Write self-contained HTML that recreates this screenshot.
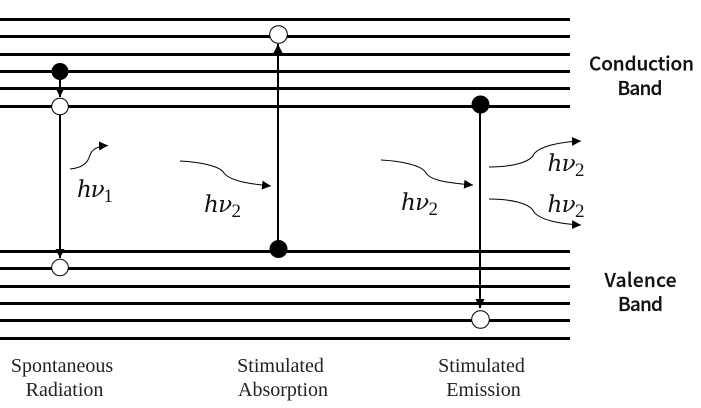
<!DOCTYPE html>
<html><head><meta charset="utf-8"><style>
html,body{margin:0;padding:0;background:#fff;width:701px;height:408px;overflow:hidden}
svg{display:block}
.s{font-family:"Liberation Serif",serif;font-size:20px;fill:#222;text-anchor:middle}
.b{font-family:"Noto Sans CJK SC","Liberation Sans",sans-serif;font-size:19px;font-weight:500;fill:#111;stroke:#111;stroke-width:.25px;text-anchor:middle}
.m{font-family:"DejaVu Serif","Liberation Serif",serif;font-style:italic;font-size:23px;fill:#111}
.m .u{font-family:"Liberation Serif",serif;font-style:normal;font-size:19px}
</style></head><body>
<svg width="701" height="408" viewBox="0 0 701 408" xmlns="http://www.w3.org/2000/svg">
<defs>
<marker id="a" markerUnits="userSpaceOnUse" markerWidth="10" markerHeight="9" refX="9" refY="4.500" orient="auto"><path d="M0 0L9 4.500L0 9z" fill="#000"/></marker>
</defs>
<g stroke="#000" stroke-width="3">
<path d="M0 19.500H570M0 36.500H570M0 54.500H570M0 71.500H570M0 88.500H570M0 106.500H570M0 251.500H570M0 268.500H570M0 286.500H570M0 303.500H570M0 320.500H570M0 338.500H570"/>
</g>
<g stroke="#000" stroke-width="2" fill="none">
<path d="M60 72V97" marker-end="url(#a)"/>
<path d="M60 115V258" marker-end="url(#a)"/>
<path d="M278 248V44" marker-end="url(#a)"/>
<path d="M480 105V308" marker-end="url(#a)"/>
</g>
<g stroke="#000" stroke-width="1" fill="none">
<path d="M70 169C82 168 88 163 90 155C92 149 98 146 108 145.500" marker-end="url(#a)"/>
<path d="M180 161C200 162 220 166 224 173C230 181 250 184 271 186" marker-end="url(#a)"/>
<path d="M381 160C400 161 422 165 426 173C431 181 450 183 473 185" marker-end="url(#a)"/>
<path d="M489 167C510 167 530 163 534 154C540 146 560 142 581 141" marker-end="url(#a)"/>
<path d="M489 199C510 199 530 203 534 212C540 220 560 224 581 225" marker-end="url(#a)"/>
</g>
<circle cx="60" cy="71.500" r="8.500" fill="#000"/>
<circle cx="60" cy="106.500" r="8.300" fill="#fff" stroke="#000" stroke-width="1"/>
<circle cx="60" cy="267.500" r="8.300" fill="#fff" stroke="#000" stroke-width="1"/>
<circle cx="278.500" cy="34.500" r="8.800" fill="#fff" stroke="#000" stroke-width="1"/>
<circle cx="278.500" cy="249" r="9" fill="#000"/>
<circle cx="480.500" cy="104.500" r="9" fill="#000"/>
<circle cx="480.500" cy="319.500" r="8.800" fill="#fff" stroke="#000" stroke-width="1"/>
<text class="m" x="77" y="197" textLength="36">hν<tspan class="u" dy="5">1</tspan></text>
<text class="m" x="204" y="212" textLength="37">hν<tspan class="u" dy="5">2</tspan></text>
<text class="m" x="401" y="210" textLength="37">hν<tspan class="u" dy="5">2</tspan></text>
<text class="m" x="547.500" y="171" textLength="37">hν<tspan class="u" dy="5">2</tspan></text>
<text class="m" x="547.500" y="212" textLength="37">hν<tspan class="u" dy="5">2</tspan></text>
<text class="b" x="641.500" y="70.500" textLength="105">Conduction</text>
<text class="b" x="640" y="95" textLength="45">Band</text>
<text class="b" x="640.500" y="287" textLength="72">Valence</text>
<text class="b" x="640.500" y="311" textLength="45">Band</text>
<text class="s" x="62" y="372">Spontaneous</text>
<text class="s" x="64.500" y="396">Radiation</text>
<text class="s" x="280.500" y="372">Stimulated</text>
<text class="s" x="283" y="396">Absorption</text>
<text class="s" x="481.500" y="372">Stimulated</text>
<text class="s" x="483.500" y="396">Emission</text>
</svg>
</body></html>
